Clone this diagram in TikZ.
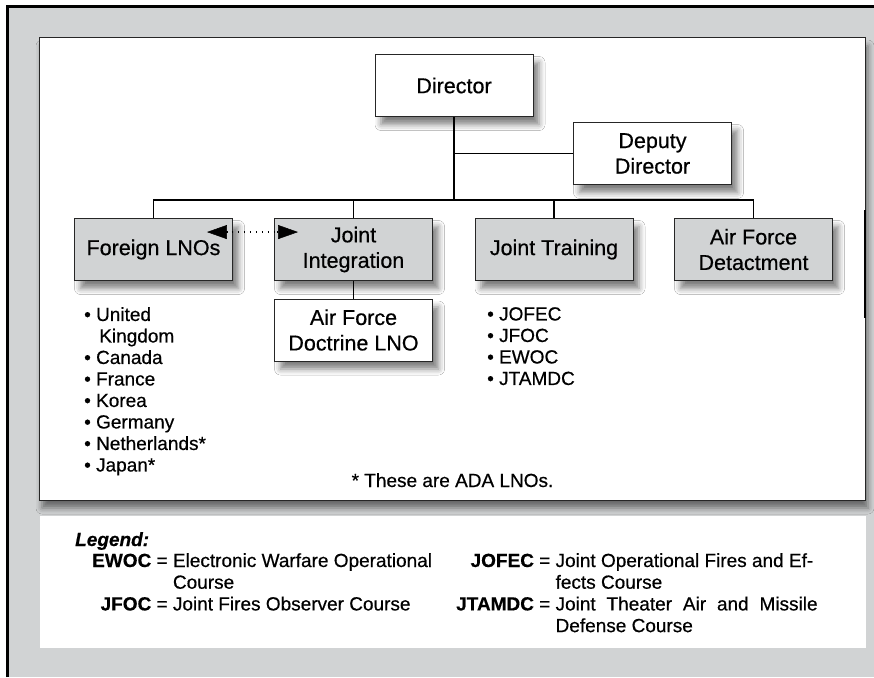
\documentclass[tikz,border=0pt]{standalone}
\usepackage{fontspec}
\setmainfont{Liberation Sans}[FakeBold=0.5]
\usetikzlibrary{arrows.meta,shadows.blur}
\definecolor{panelgray}{RGB}{209,211,212}
\begin{document}
\begin{tikzpicture}[x=1pt,y=-1pt,
        office/.style={draw=black!85,line width=0.9pt,fill=panelgray,minimum width=158pt,minimum height=62pt,align=center,
          font=\fontsize{21.5}{25.5}\selectfont,blur shadow={shadow xshift=6pt,shadow yshift=-8pt,shadow blur radius=6pt,shadow opacity=50}},
        topoffice/.style={office,fill=white},
        link/.style={line width=1.6pt},
        liaisontip/.style={line width=1.4pt,-{Triangle[length=20pt,width=14pt,fill=black,line width=0.5pt]}},
        items/.style={anchor=north west,inner sep=0pt,align=left,font=\fontsize{19}{21.5}\selectfont},
        legendtext/.style={anchor=base west,inner sep=0pt,font=\fontsize{19}{21.7}\selectfont}]
        \useasboundingbox (0,0) rectangle (874,677);
        \fill[panelgray] (7.5,6.5) rectangle (874,677);
        \draw[line width=2.6pt] (7.5,677) -- (7.5,6.5) -- (874,6.5);
        \draw[draw=black!85,line width=1pt,fill=white,blur shadow={shadow xshift=3pt,shadow yshift=-8pt,shadow blur radius=6pt,shadow opacity=50}] (39,38) rectangle (865,500);
        \draw[line width=2.4pt] (865,210) -- (865,318);
        \fill[white] (40,516) rectangle (866,648);
        \node[topoffice] (director) at (454,85.5) {Director};
        \node[topoffice] (deputy) at (652.5,153.5) {Deputy\\Director};
        \node[office] (foreign) at (153.5,249.5) {Foreign LNOs};
        \node[office] (joint) at (353.5,249.5) {Joint\\Integration};
        \node[office] (training) at (554,249.5) {Joint Training};
        \node[office] (afdet) at (753.5,249.5) {Air Force\\Detactment};
        \node[topoffice] (doctrine) at (353.5,330) {Air Force\\Doctrine LNO};
        \coordinate (bus) at (454,200);
        \draw[link] (director.south) -- (bus);
        \draw[link] (director.south |- deputy.west) -- (deputy.west);
        \draw[link] (foreign.north) -- (foreign.north |- bus) -- (afdet.north |- bus) -- (afdet.north);
        \draw[link] (joint.north) -- (joint.north |- bus);
        \draw[link] (training.north) -- (training.north |- bus);
        \draw[link] (joint.south) -- (doctrine.north);
        \coordinate (liaisonL) at ([shift={(-26,14)}]foreign.north east);
        \coordinate (liaisonR) at ([shift={(24,14)}]joint.north west);
        \draw[line width=1.4pt,dash pattern=on 1.4pt off 4.6pt,shorten <=19pt,shorten >=19pt] (liaisonL) -- (liaisonR);
        \draw[liaisontip] ([xshift=21pt]liaisonL) -- (liaisonL);
        \draw[liaisontip] ([xshift=-21pt]liaisonR) -- (liaisonR);
        \node[items] (countries) at (84,307) {\textbullet\ United\\\hphantom{\textbullet\ }\,Kingdom\\\textbullet\ Canada\\\textbullet\ France\\
          \textbullet\ Korea\\\textbullet\ Germany\\\textbullet\ Netherlands*\\\textbullet\ Japan*};
        \node[items] (courses) at (487,307) {\textbullet\ JOFEC\\\textbullet\ JFOC\\\textbullet\ EWOC\\\textbullet\ JTAMDC};
        \node[anchor=base,inner sep=0pt,font=\fontsize{19}{21.5}\selectfont] (note) at (452.5,487) {* These are ADA LNOs.};
        \node[legendtext] (legend) at (75,546) {\textbf{\textit{Legend:}}};
        \node[legendtext] (legendL) at (92,567) {\begin{tabular}[t]{@{}r@{ }c@{ }l@{}}
          \textbf{EWOC} & = & Electronic Warfare Operational\\ & & Course\\ \textbf{JFOC} & = & Joint Fires Observer Course\end{tabular}};
        \node[legendtext] (legendR) at (456,567) {\begin{tabular}[t]{@{}r@{ }c@{ }l@{}}
          \textbf{JOFEC} & = & Joint Operational Fires and Ef-\\ & & fects Course\\
          \textbf{JTAMDC} & = & \makebox[262pt][s]{Joint Theater Air and Missile}\\ & & Defense Course\end{tabular}};
    \end{tikzpicture}
\end{document}
